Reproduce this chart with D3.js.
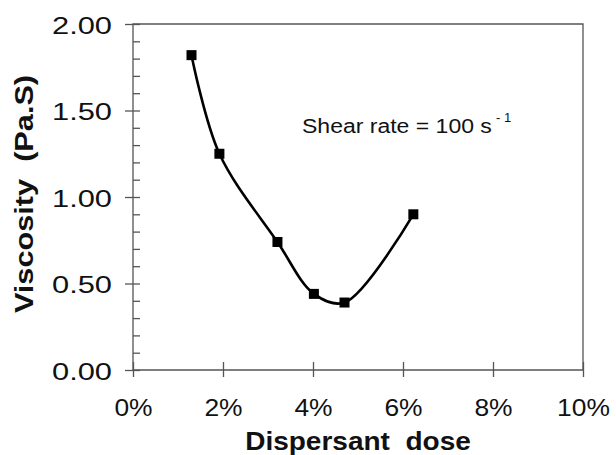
<!DOCTYPE html>
<meta charset="utf-8">
<style>
body { margin: 0; background: #fff; }
text { font-family: "Liberation Sans", Arial, Helvetica, sans-serif; fill: #111; white-space: pre; }
.tick line { stroke: #555; stroke-width: 1.3px; }
.frame { stroke: #555; stroke-width: 1.3px; fill: none; }
</style>
<svg width="616" height="455"></svg>
<script src="https://d3js.org/d3.v7.min.js"></script>
<script>

// data
var dose = [1.3, 1.92, 3.21, 4.02, 4.70, 6.23];       // % dispersant
var viscosity = [1.82, 1.25, 0.74, 0.44, 0.39, 0.90]; // Pa.S
var xTicks = [0, 2, 4, 6, 8, 10];
var yTicks = [0, 0.5, 1.0, 1.5, 2.0];
var yMinor = d3.range(0, 21).map(function(i) { return i / 10; });

var svg = d3.select("svg");

var x = d3.scaleLinear().domain([0, 10]).range([133, 583]);
var y = d3.scaleLinear().domain([0, 2]).range([370, 24]);

// stretch text horizontally, the scan is wider than normal type
function stretch(sel, k) {
  sel.each(function() {
    var w = this.getComputedTextLength();
    d3.select(this).attr("textLength", w * k).attr("lengthAdjust", "spacingAndGlyphs");
  });
}

/************* FRAME ***************/
svg.append("path")
    .attr("class", "frame")
    .attr("d", "M" + x(0) + "," + y(2) + "H" + x(10) + "V" + y(0) + "H" + x(0) + "Z");

/************* AXES ***************/
var yOut = svg.append("g")
    .attr("transform", "translate(" + x(0) + ",0)")
    .call(d3.axisLeft(y).tickValues(yTicks).tickSize(8).tickPadding(13)
          .tickFormat(d3.format(".2f")));
svg.append("g")
    .attr("transform", "translate(" + x(0) + ",0)")
    .call(d3.axisRight(y).tickValues(yMinor).tickSize(7).tickFormat(""));

var xOut = svg.append("g")
    .attr("transform", "translate(0," + y(0) + ")")
    .call(d3.axisBottom(x).tickValues(xTicks).tickSize(7)
          .tickFormat(function(d) { return d + "%"; }));
svg.append("g")
    .attr("transform", "translate(0," + y(0) + ")")
    .call(d3.axisTop(x).tickValues(xTicks).tickSize(8).tickFormat(""));

svg.selectAll(".domain").remove();

yOut.selectAll("text")
    .attr("dy", "0.4em")
    .style("font-size", "23px")
    .attr("fill", "#111");
stretch(yOut.selectAll("text"), 1.34);

xOut.selectAll("text")
    .attr("y", 46).attr("dy", 0)
    .style("font-size", "24px")
    .attr("fill", "#111");
stretch(xOut.selectAll("text"), 1.1);

/************* TITLES ***************/
var xTitle = svg.append("text")
    .attr("x", 358).attr("y", 450)
    .attr("text-anchor", "middle")
    .style("font-size", "25px").style("font-weight", "bold")
    .text("Dispersant  dose");
stretch(xTitle, 1.12);

var yTitle = svg.append("text")
    .attr("transform", "translate(33,194) rotate(-90)")
    .attr("text-anchor", "middle")
    .style("font-size", "26px").style("font-weight", "bold")
    .text("Viscosity  (Pa.S)");
stretch(yTitle, 1.18);

var note = svg.append("text")
    .attr("x", 302).attr("y", 133)
    .style("font-size", "20px")
    .text("Shear rate = 100 s");
stretch(note, 1.15);
svg.append("text")
    .attr("x", 496).attr("y", 122)
    .style("font-size", "13px")
    .text("- 1");

/************* CURVE + POINTS ***************/
var pts = dose.map(function(d, i) { return [d, viscosity[i]]; });

svg.append("path")
    .datum(pts)
    .attr("fill", "none")
    .attr("stroke", "#000")
    .attr("stroke-width", 2.6)
    .attr("d", d3.line()
        .x(function(d) { return x(d[0]); })
        .y(function(d) { return y(d[1]); })
        .curve(d3.curveCatmullRom.alpha(0.5)));

var S = 10;
svg.selectAll("rect.pt")
    .data(pts)
    .enter().append("rect")
      .attr("class", "pt")
      .attr("x", function(d) { return x(d[0]) - S / 2; })
      .attr("y", function(d) { return y(d[1]) - S / 2; })
      .attr("width", S).attr("height", S)
      .attr("fill", "#000");

</script>
